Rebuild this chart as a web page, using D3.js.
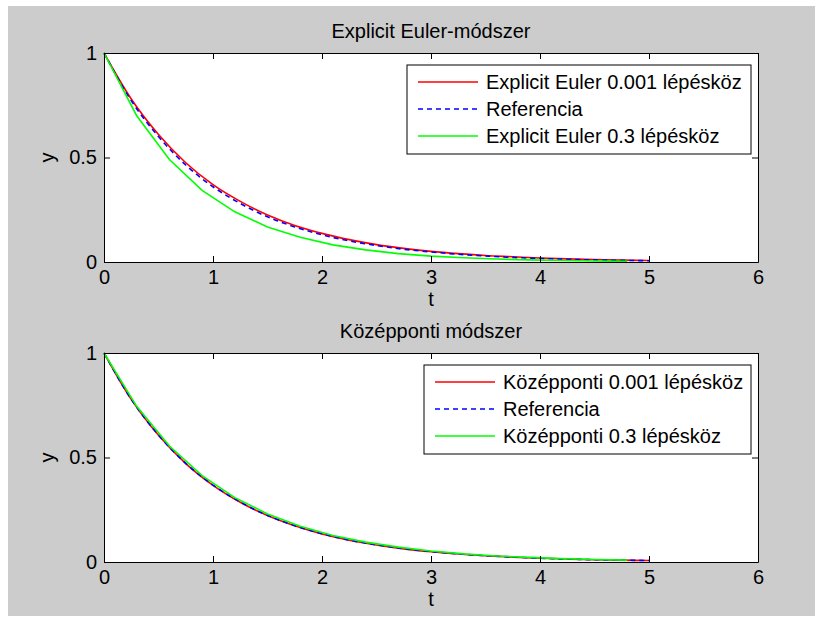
<!DOCTYPE html>
<html>
<head>
<meta charset="utf-8">
<script src="https://cdn.jsdelivr.net/npm/d3@7"></script>
<style>
  body { margin: 0; background: #fff; }
  svg { display: block; font-family: 'Liberation Sans', Arial, sans-serif; }
</style>
</head>
<body>
<div id="chart"></div>
<script>
// fine time grid (step 0.25) for the 0.001 step solutions and the reference
const tFine = [0, 0.25, 0.5, 0.75, 1, 1.25, 1.5, 1.75, 2, 2.25, 2.5, 2.75, 3, 3.25, 3.5, 3.75, 4, 4.25, 4.5, 4.75, 5]
// coarse grid (step 0.3)
const tCoarse = [0, 0.3, 0.6, 0.9, 1.2, 1.5, 1.8, 2.1, 2.4, 2.7, 3, 3.3, 3.6, 3.9, 4.2, 4.5, 4.8]

const eulerFine = [1, 0.78, 0.61, 0.475, 0.37, 0.29, 0.225, 0.175, 0.137, 0.107, 0.083, 0.065, 0.051, 0.04, 0.031, 0.025, 0.019, 0.015, 0.012, 0.009, 0.007]
const eulerRef = [1, 0.772, 0.6, 0.464, 0.36, 0.28, 0.216, 0.168, 0.13, 0.101, 0.079, 0.061, 0.048, 0.037, 0.029, 0.022, 0.017, 0.013, 0.01, 0.008, 0.006]
const eulerCoarse = [1, 0.7, 0.49, 0.343, 0.24, 0.168, 0.118, 0.082, 0.058, 0.04, 0.028, 0.02, 0.014, 0.01, 0.007, 0.005, 0.003]

const midFine = [1, 0.778, 0.606, 0.471, 0.367, 0.286, 0.222, 0.173, 0.134, 0.104, 0.081, 0.063, 0.049, 0.038, 0.03, 0.023, 0.018, 0.014, 0.011, 0.009, 0.007]
const midRef = [1, 0.779, 0.607, 0.472, 0.368, 0.287, 0.223, 0.174, 0.135, 0.105, 0.082, 0.064, 0.05, 0.039, 0.03, 0.024, 0.018, 0.014, 0.011, 0.009, 0.007]
const midCoarse = [1, 0.745, 0.555, 0.413, 0.308, 0.23, 0.171, 0.127, 0.095, 0.071, 0.053, 0.039, 0.029, 0.022, 0.016, 0.012, 0.009]

const xTicks = [0, 1, 2, 3, 4, 5, 6]
const yTicks = [0, 0.5, 1]

const width = 821
const height = 622
const fontSize = 20
const tickLen = 6

const svg = d3.select('#chart').append('svg')
  .attr('width', width)
  .attr('height', height)
  .attr('viewBox', [0, 0, width, height])

svg.append('rect')
  .attr('x', 8).attr('y', 6)
  .attr('width', 807).attr('height', 610)
  .attr('fill', '#cccccc')

const panel = ({ top, title, series, legend }) => {
  const left = 104
  const right = 758
  const bottom = top + 209

  const x = d3.scaleLinear([0, 6], [left, right])
  const y = d3.scaleLinear([0, 1], [bottom, top])

  const g = svg.append('g')

  g.append('rect')
    .attr('x', left).attr('y', top)
    .attr('width', right - left).attr('height', bottom - top)
    .attr('fill', '#fff')

  const line = d3.line()
    .x(d => x(d[0]))
    .y(d => y(d[1]))

  series.forEach(s => {
    g.append('path')
      .attr('fill', 'none')
      .attr('stroke', s.color)
      .attr('stroke-width', 1.6)
      .attr('stroke-dasharray', s.dash || null)
      .attr('d', line.curve(s.smooth ? d3.curveMonotoneX : d3.curveLinear)(d3.zip(s.t, s.v)))
  })

  const style = a => a
    .attr('font-family', null)
    .attr('font-size', null)
    .call(a => a.selectAll('.domain').attr('stroke', '#000'))
    .call(a => a.selectAll('.tick line').attr('stroke', '#000'))
    .call(a => a.selectAll('text').attr('fill', '#000').style('font-size', fontSize + 'px'))

  g.append('g')
    .attr('transform', `translate(0, ${bottom})`)
    .call(d3.axisBottom(x).tickValues(xTicks).tickFormat(d3.format('d')).tickSize(-tickLen).tickSizeOuter(0).tickPadding(8))
    .call(style)
  g.append('g')
    .attr('transform', `translate(0, ${top})`)
    .call(d3.axisTop(x).tickValues(xTicks).tickFormat('').tickSize(-tickLen).tickSizeOuter(0))
    .call(style)
  g.append('g')
    .attr('transform', `translate(${left}, 0)`)
    .call(d3.axisLeft(y).tickValues(yTicks).tickFormat(d3.format('~g')).tickSize(-tickLen).tickSizeOuter(0).tickPadding(7))
    .call(style)
  g.append('g')
    .attr('transform', `translate(${right}, 0)`)
    .call(d3.axisRight(y).tickValues(yTicks).tickFormat('').tickSize(-tickLen).tickSizeOuter(0))
    .call(style)

  g.append('text')
    .attr('x', (left + right) / 2)
    .attr('y', top - 15)
    .attr('text-anchor', 'middle')
    .style('font-size', fontSize + 'px')
    .text(title)

  g.append('text')
    .attr('x', (left + right) / 2)
    .attr('y', bottom + 44)
    .attr('text-anchor', 'middle')
    .style('font-size', fontSize + 'px')
    .text('t')

  g.append('text')
    .attr('transform', `translate(54, ${(top + bottom) / 2}) rotate(-90)`)
    .attr('text-anchor', 'middle')
    .style('font-size', fontSize + 'px')
    .text('y')

  // legend
  const lg = g.append('g')
  lg.append('rect')
    .attr('x', legend.x).attr('y', top + 12)
    .attr('width', right - 7 - legend.x).attr('height', 89)
    .attr('fill', '#fff')
    .attr('stroke', '#000')
  series.forEach((s, i) => {
    const ry = top + 29 + i * 27
    lg.append('line')
      .attr('x1', legend.x + 11).attr('x2', legend.x + 71)
      .attr('y1', ry).attr('y2', ry)
      .attr('stroke', s.color)
      .attr('stroke-width', 1.6)
      .attr('stroke-dasharray', s.dash || null)
    lg.append('text')
      .attr('x', legend.x + 79)
      .attr('y', ry)
      .attr('dy', '0.35em')
      .style('font-size', fontSize + 'px')
      .text(s.label)
  })
}

panel({
  top: 53,
  title: 'Explicit Euler-módszer',
  legend: { x: 407 },
  series: [
    { label: 'Explicit Euler 0.001 lépésköz', color: '#ff0000', t: tFine, v: eulerFine, smooth: true },
    { label: 'Referencia', color: '#0000ff', dash: '5,4', t: tFine, v: eulerRef, smooth: true },
    { label: 'Explicit Euler 0.3 lépésköz', color: '#00ff00', t: tCoarse, v: eulerCoarse }
  ]
})

panel({
  top: 353,
  title: 'Középponti módszer',
  legend: { x: 424 },
  series: [
    { label: 'Középponti 0.001 lépésköz', color: '#ff0000', t: tFine, v: midFine, smooth: true },
    { label: 'Referencia', color: '#0000ff', dash: '5,4', t: tFine, v: midRef, smooth: true },
    { label: 'Középponti 0.3 lépésköz', color: '#00ff00', t: tCoarse, v: midCoarse }
  ]
})
</script>
</body>
</html>
